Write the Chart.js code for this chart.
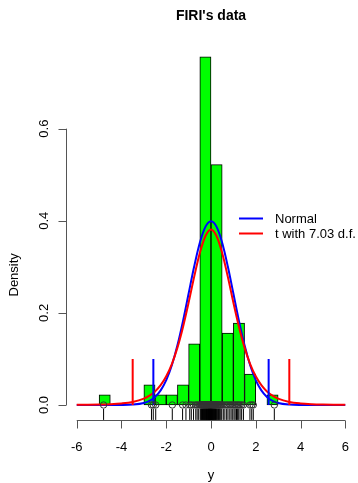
<!DOCTYPE html>
<html>
<head>
<meta charset="utf-8">
<script src="https://cdn.jsdelivr.net/npm/chart.js@4.4.1/dist/chart.umd.min.js"></script>
<style>
  html, body { margin: 0; padding: 0; background: #fff; }
  canvas { display: block; }
</style>
</head>
<body>
<canvas id="firiChart" width="358" height="483"></canvas>
<script>
// ---------------------------------------------------------------------------
// Data
// ---------------------------------------------------------------------------

// histogram bins (width 0.5), centre of each bin and its density
const binCenters = [-4.75, -4.25, -3.75, -3.25, -2.75, -2.25, -1.75, -1.25,
                    -0.75, -0.25, 0.25, 0.75, 1.25, 1.75, 2.25, 2.75];
const binDensity = [0.022, 0, 0, 0, 0.044, 0.022, 0.022, 0.044,
                    0.133, 0.756, 0.522, 0.156, 0.178, 0.067, 0, 0.022];

// fitted density curves
const curveX = [-6, -5.5, -5, -4.5, -4, -3.5, -3, -2.75, -2.5, -2.25, -2, -1.75,
                -1.5, -1.25, -1, -0.75, -0.5, -0.25, 0, 0.25, 0.5, 0.75, 1, 1.25,
                1.5, 1.75, 2, 2.25, 2.5, 2.75, 3, 3.5, 4, 4.5, 5, 5.5, 6];
const normalY = [0, 0, 0, 0, 0.0001, 0.0009, 0.0044, 0.0091, 0.0175, 0.0317, 0.054, 0.0863,
                 0.1295, 0.1826, 0.242, 0.3011, 0.3521, 0.3867, 0.3989, 0.3867, 0.3521, 0.3011, 0.242, 0.1826,
                 0.1295, 0.0863, 0.054, 0.0317, 0.0175, 0.0091, 0.0044, 0.0009, 0.0001, 0, 0, 0, 0];
const tY = [0.0003, 0.0005, 0.0009, 0.0017, 0.0033, 0.0066, 0.0139, 0.0203, 0.0295, 0.043, 0.0624, 0.0889,
            0.1245, 0.1695, 0.2223, 0.2787, 0.3298, 0.3664, 0.3810, 0.3664, 0.3298, 0.2787, 0.2223, 0.1695,
            0.1245, 0.0889, 0.0624, 0.043, 0.0295, 0.0203, 0.0139, 0.0066, 0.0033, 0.0017, 0.0009, 0.0005, 0.0003];

// quantile markers (drawn from 0 up to markerHeight)
const normalQuantiles = [-2.576, 2.576];
const tQuantiles = [-3.5, 3.5];
const markerHeight = 0.1;

// the observations (shown as circles at 0 and as a rug)
const observations = [
  -4.8, -2.66, -2.58, -2.47, -1.73, -1.27, -1.12,
  -0.95, -0.88, -0.78, -0.68, -0.62, -0.55,
  -0.48, -0.45, -0.43, -0.41, -0.38, -0.36, -0.34, -0.32, -0.30, -0.28,
  -0.27, -0.25, -0.23, -0.21, -0.20, -0.18, -0.17, -0.15, -0.14, -0.12,
  -0.11, -0.10, -0.09, -0.08, -0.07, -0.06, -0.05, -0.04, -0.03, -0.02,
  -0.015, -0.01, -0.005, -0.002,
  0.01, 0.02, 0.03, 0.04, 0.05, 0.06, 0.08, 0.09, 0.10, 0.12, 0.14, 0.16,
  0.18, 0.20, 0.22, 0.25, 0.28, 0.31, 0.34, 0.37, 0.40, 0.44, 0.48,
  0.55, 0.62, 0.70, 0.76, 0.84, 0.90, 0.97,
  1.03, 1.08, 1.14, 1.19, 1.24, 1.30, 1.37, 1.45,
  1.74, 1.82, 1.89, 2.83
];

// axes
const xTicks = [-6, -4, -2, 0, 2, 4, 6];
const yTicks = [0, 0.2, 0.4, 0.6];
const titleText = "FIRI's data";
const xTitle = "y";
const yTitle = "Density";
const legendLabels = ["Normal", "t with 7.03 d.f."];

// ---------------------------------------------------------------------------
// Helpers
// ---------------------------------------------------------------------------

const FONT = '"Liberation Sans", Arial, Helvetica, sans-serif';
const BLUE = "#0000ff";
const RED = "#ff0000";

function toPoints(xs, ys) {
    return xs.map((x, i) => ({ x: x, y: ys[i] }));
}

// two-point vertical segments separated by a gap
function markerSegments(positions) {
    const pts = [];
    positions.forEach((x, i) => {
        if (i > 0) pts.push({ x: x, y: null });
        pts.push({ x: x, y: 0 }, { x: x, y: markerHeight });
    });
    return pts;
}

/**
 * R-style axes, title and legend drawn on top of the chart area
 */
const baseGraphicsPlugin = {
    id: "baseGraphics",
    afterDraw(chart) {
        const ctx = chart.ctx;
        const xs = chart.scales.x;
        const ys = chart.scales.y;
        const area = chart.chartArea;

        ctx.save();
        ctx.strokeStyle = "#555";
        ctx.fillStyle = "#000";
        ctx.lineWidth = 1;

        // x axis
        const axY = Math.round(area.bottom) + 0.5;
        ctx.beginPath();
        ctx.moveTo(xs.getPixelForValue(xTicks[0]), axY);
        ctx.lineTo(xs.getPixelForValue(xTicks[xTicks.length - 1]), axY);
        xTicks.forEach((t) => {
            const px = Math.round(xs.getPixelForValue(t)) + 0.5;
            ctx.moveTo(px, axY);
            ctx.lineTo(px, axY + 8);
        });
        ctx.stroke();

        ctx.font = "13px " + FONT;
        ctx.textAlign = "center";
        ctx.textBaseline = "alphabetic";
        xTicks.forEach((t) => {
            ctx.fillText(String(t), xs.getPixelForValue(t), axY + 30);
        });

        // y axis
        const axX = Math.round(area.left) + 0.5;
        ctx.beginPath();
        ctx.moveTo(axX, ys.getPixelForValue(yTicks[0]));
        ctx.lineTo(axX, ys.getPixelForValue(yTicks[yTicks.length - 1]));
        yTicks.forEach((t) => {
            const py = Math.round(ys.getPixelForValue(t)) + 0.5;
            ctx.moveTo(axX, py);
            ctx.lineTo(axX - 8, py);
        });
        ctx.stroke();

        yTicks.forEach((t) => {
            ctx.save();
            ctx.translate(axX - 19, ys.getPixelForValue(t));
            ctx.rotate(-Math.PI / 2);
            ctx.fillText(t.toFixed(1), 0, 0);
            ctx.restore();
        });

        // axis titles
        ctx.fillText(xTitle, xs.getPixelForValue(0), axY + 58);
        ctx.save();
        ctx.translate(18, (ys.getPixelForValue(0) + ys.getPixelForValue(0.6)) / 2 + 8);
        ctx.rotate(-Math.PI / 2);
        ctx.fillText(yTitle, 0, 0);
        ctx.restore();

        // title
        ctx.font = "bold 14px " + FONT;
        ctx.fillText(titleText, xs.getPixelForValue(0), 20);

        // legend
        const colors = [BLUE, RED];
        ctx.font = "13px " + FONT;
        ctx.textAlign = "left";
        ctx.textBaseline = "middle";
        legendLabels.forEach((label, i) => {
            const ly = 218.5 + i * 15;
            ctx.strokeStyle = colors[i];
            ctx.lineWidth = 2;
            ctx.beginPath();
            ctx.moveTo(239, ly);
            ctx.lineTo(263, ly);
            ctx.stroke();
            ctx.fillText(label, 275, ly + 1);
        });

        ctx.restore();
    },
};

// ---------------------------------------------------------------------------
// Chart
// ---------------------------------------------------------------------------

const canvas = document.getElementById("firiChart");

new Chart(canvas.getContext("2d"), {
    type: "scatter",
    data: {
        datasets: [
            {
                type: "bar",
                data: toPoints(binCenters, binDensity),
                backgroundColor: "#00ff00",
                borderColor: "#000",
                borderWidth: 1,
                borderSkipped: false,
                barPercentage: 1,
                categoryPercentage: 1,
                order: 6,
            },
            {
                type: "line",
                data: toPoints(curveX, normalY),
                borderColor: BLUE,
                borderWidth: 2,
                pointRadius: 0,
                cubicInterpolationMode: "monotone",
                order: 5,
            },
            {
                type: "line",
                data: toPoints(curveX, tY),
                borderColor: RED,
                borderWidth: 2,
                pointRadius: 0,
                cubicInterpolationMode: "monotone",
                order: 4,
            },
            {
                type: "line",
                data: markerSegments(normalQuantiles),
                borderColor: BLUE,
                borderWidth: 2,
                pointRadius: 0,
                spanGaps: false,
                order: 3,
            },
            {
                type: "line",
                data: markerSegments(tQuantiles),
                borderColor: RED,
                borderWidth: 2,
                pointRadius: 0,
                spanGaps: false,
                order: 2,
            },
            {
                // observations as open circles on the baseline
                data: observations.map((v) => ({ x: v, y: 0 })),
                pointStyle: "circle",
                pointRadius: 3.2,
                borderColor: "#333",
                borderWidth: 1,
                backgroundColor: "rgba(0,0,0,0)",
                order: 1,
            },
            {
                // rug along the x axis
                data: observations.map((v) => ({ x: v, y: -0.0205 })),
                pointStyle: "line",
                rotation: 90,
                pointRadius: 5.5,
                borderColor: "#000",
                borderWidth: 1,
                order: 0,
            },
        ],
    },
    options: {
        responsive: false,
        animation: false,
        events: [],
        layout: { autoPadding: false, padding: { left: 66, right: 2, top: 43, bottom: 63 } },
        scales: {
            x: {
                type: "linear", min: -6.48, max: 6.48, display: false,
                offset: false, grid: { offset: false },
            },
            y: { type: "linear", min: -0.0326, max: 0.786, display: false },
        },
        plugins: {
            legend: { display: false },
            tooltip: { enabled: false },
        },
    },
    plugins: [baseGraphicsPlugin],
});
</script>
</body>
</html>
